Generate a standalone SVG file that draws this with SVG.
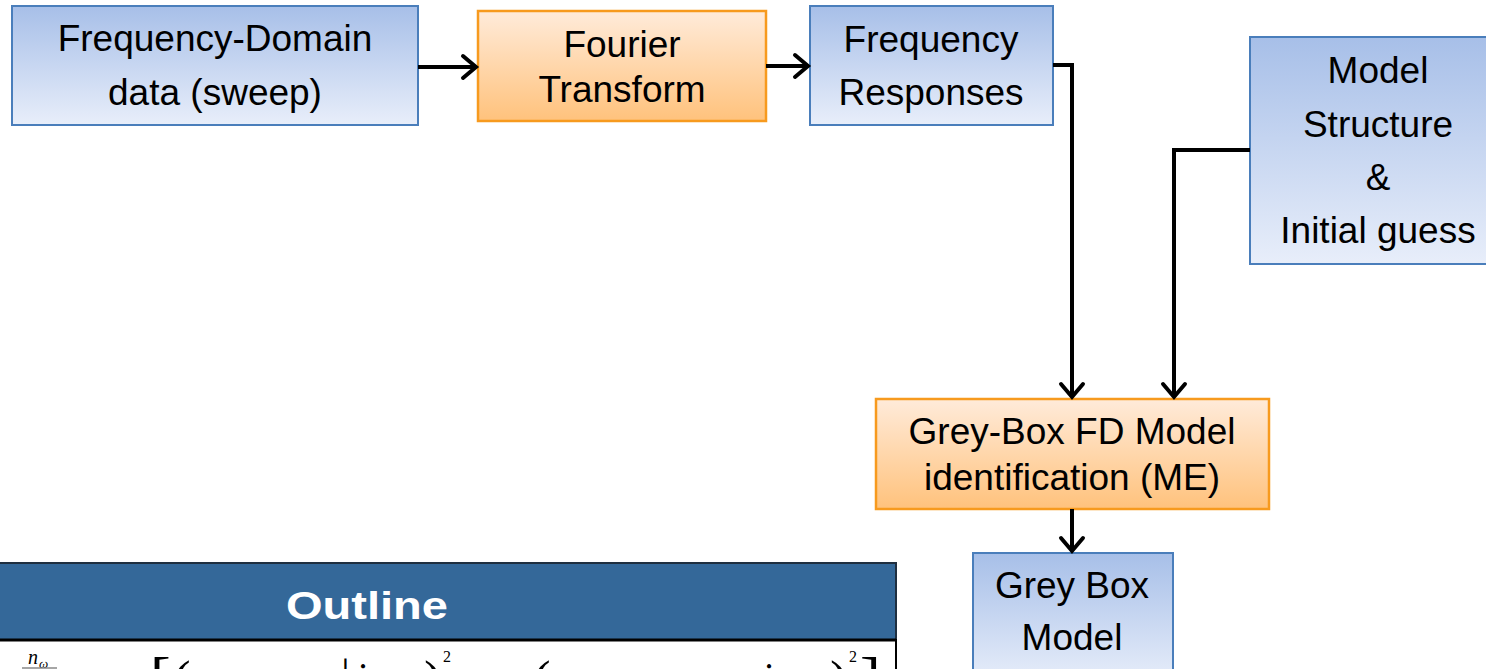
<svg xmlns="http://www.w3.org/2000/svg" width="1486" height="669" viewBox="0 0 1486 669">
<defs>
<linearGradient id="gBlue" x1="0" y1="0" x2="0" y2="1">
<stop offset="0" stop-color="#A7BFE8"/>
<stop offset="1" stop-color="#E8EEFA"/>
</linearGradient>
<linearGradient id="gOrange" x1="0" y1="0" x2="0" y2="1">
<stop offset="0" stop-color="#FFEBDA"/>
<stop offset="1" stop-color="#FFC27C"/>
</linearGradient>
<marker id="arr" markerWidth="20" markerHeight="28" refX="16" refY="14" orient="auto" markerUnits="userSpaceOnUse">
<path d="M3,3 L16,14 L3,25" fill="none" stroke="#000" stroke-width="4" stroke-linecap="round"/>
</marker>
</defs>
<style>
.blue{fill:url(#gBlue);stroke:#4A7EBB;stroke-width:2}
.orange{fill:url(#gOrange);stroke:#F79A1E;stroke-width:2.5}
.t{font-family:"Liberation Sans",Arial,sans-serif;font-size:37px;fill:#000;text-anchor:middle}
.c{fill:none;stroke:#000;stroke-width:4}
.m{font-family:"Liberation Serif","Times New Roman",serif;fill:#000}
</style>
<rect width="1486" height="669" fill="#fff"/>

<g id="node-fd-data">
<rect class="blue" x="12" y="6" width="406" height="119"/>
<text class="t" x="215" y="51">Frequency-Domain</text>
<text class="t" x="215" y="105">data (sweep)</text>
</g>

<g id="node-fourier">
<rect class="orange" x="478" y="11" width="288" height="110"/>
<text class="t" x="622" y="57">Fourier</text>
<text class="t" x="622" y="102">Transform</text>
</g>

<g id="node-freq-resp">
<rect class="blue" x="810" y="6" width="243" height="119"/>
<text class="t" x="931" y="52">Frequency</text>
<text class="t" x="931" y="105">Responses</text>
</g>

<g id="node-model-structure">
<rect class="blue" x="1250" y="37" width="240" height="227"/>
<text class="t" x="1378" y="83">Model</text>
<text class="t" x="1378" y="137">Structure</text>
<text class="t" x="1378" y="190">&amp;</text>
<text class="t" x="1378" y="243">Initial guess</text>
</g>

<g id="node-greybox-id">
<rect class="orange" x="876" y="399" width="393" height="110"/>
<text class="t" x="1072" y="444">Grey-Box FD Model</text>
<text class="t" x="1072" y="490">identification (ME)</text>
</g>

<g id="node-greybox-model">
<rect class="blue" x="973" y="553" width="200" height="130"/>
<text class="t" x="1072" y="598">Grey Box</text>
<text class="t" x="1072" y="650">Model</text>
</g>

<g id="connectors">
<path class="c" d="M418,67 L476,67" marker-end="url(#arr)"/>
<path class="c" d="M766,66 L808,66" marker-end="url(#arr)"/>
<path class="c" d="M1053,65 L1072,65 L1072,397" marker-end="url(#arr)"/>
<path class="c" d="M1250,150 L1174,150 L1174,397" marker-end="url(#arr)"/>
<path class="c" d="M1072,509 L1072,551" marker-end="url(#arr)"/>
</g>

<g id="outline-table">
<rect x="-2" y="563" width="898" height="77" fill="#346899" stroke="#1F2F40" stroke-width="2"/>
<text x="367" y="619" font-family="'Liberation Sans',Arial,sans-serif" font-size="39" font-weight="bold" fill="#fff" text-anchor="middle" textLength="162" lengthAdjust="spacingAndGlyphs">Outline</text>
<rect x="-2" y="640" width="898" height="40" fill="#fff" stroke="#000" stroke-width="2"/>
<line x1="-2" y1="640" x2="896" y2="640" stroke="#000" stroke-width="3"/>
<text class="m" x="28" y="664" font-size="20" font-style="italic">n</text>
<text class="m" x="39" y="668" font-size="13" font-style="italic">ω</text>
<line x1="22" y1="668" x2="57" y2="668" stroke="#888" stroke-width="1.5"/>
<text class="m" x="150" y="700" font-size="62">[</text>
<text class="m" x="172" y="700" font-size="56">(</text>
<text class="m" x="341" y="690" font-size="44">|</text>
<text class="m" x="355" y="690" font-size="40" font-style="italic">j</text>
<text class="m" x="424" y="700" font-size="56">)</text>
<text class="m" x="443" y="662" font-size="16">2</text>
<text class="m" x="532" y="700" font-size="56">(</text>
<text class="m" x="761" y="690" font-size="40" font-style="italic">j</text>
<text class="m" x="830" y="700" font-size="56">)</text>
<text class="m" x="849" y="662" font-size="16">2</text>
<text class="m" x="860" y="700" font-size="62">]</text>
</g>
</svg>
